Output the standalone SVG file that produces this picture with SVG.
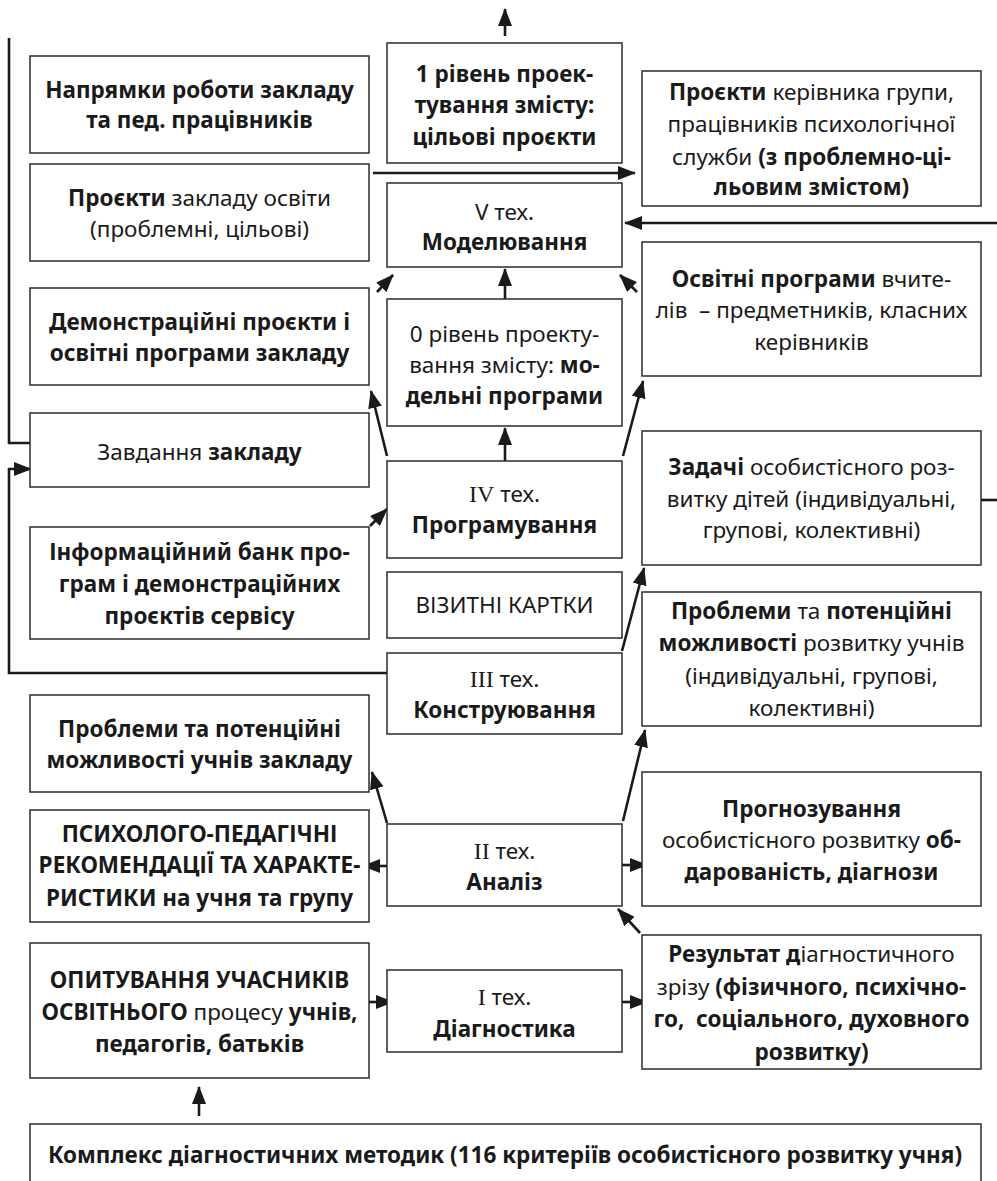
<svg xmlns="http://www.w3.org/2000/svg" width="997" height="1181" viewBox="0 0 997 1181">
<style>
.box{fill:#fff;stroke:#2b2b2b;stroke-width:1.5}
text{font-family:"Noto Sans","DejaVu Sans",sans-serif;font-size:22.5px;fill:#1a1a1a;text-anchor:middle}
.b{font-weight:bold}
.r{font-family:"Liberation Serif",serif;font-size:24px}
.c{fill:none;stroke:#1a1a1a;stroke-width:2.6}
.a{marker-end:url(#ah)}
</style>
<defs>
<marker id="ah" markerUnits="userSpaceOnUse" markerWidth="18" markerHeight="14" viewBox="0 0 18 14" refX="17" refY="7" orient="auto"><path d="M0,0 L18,7 L0,14 z" fill="#1a1a1a"/></marker>
</defs>
<g id="connectors">
<path class="c a" d="M505,36 L505,9"/>
<path class="c" d="M9,38 L9,443 L30,443"/>
<path class="c a" d="M387,673 L9,673 L9,469 L31,469"/>
<path class="c a" d="M373,173 L635,173"/>
<path class="c a" d="M997,223 L625,223"/>
<path class="c a" d="M377,292 L393,275"/>
<path class="c a" d="M637,292 L620,275"/>
<path class="c a" d="M505,299 L505,269"/>
<path class="c a" d="M505,461 L505,428"/>
<path class="c a" d="M387,456 L371,391"/>
<path class="c a" d="M623,456 L643,381"/>
<path class="c a" d="M370,526 L387,509"/>
<path class="c a" d="M622,651 L644,568"/>
<path class="c" d="M981,500 L997,500"/>
<path class="c a" d="M387,823 L372,772"/>
<path class="c a" d="M390,866 L363,866"/>
<path class="c a" d="M619,865 L647,865"/>
<path class="c a" d="M623,821 L645,730"/>
<path class="c a" d="M640,933 L618,909"/>
<path class="c a" d="M364,1002 L393,1002"/>
<path class="c a" d="M619,1002 L647,1002"/>
<path class="c a" d="M199,1116 L199,1087"/>
</g>
<g id="L1"><rect class="box" x="30" y="56" width="339" height="97"/>
<text x="199.5" y="98" class="b">Напрямки роботи закладу</text>
<text x="199.5" y="128" class="b">та пед. працівників</text></g>
<g id="L2"><rect class="box" x="30" y="164" width="339" height="97"/>
<text x="199.5" y="206"><tspan class="b">Проєкти</tspan> закладу освіти</text>
<text x="199.5" y="237">(проблемні, цільові)</text></g>
<g id="L3"><rect class="box" x="30" y="288" width="339" height="97"/>
<text x="199.5" y="330" class="b">Демонстраційні проєкти і</text>
<text x="199.5" y="361" class="b">освітні програми закладу</text></g>
<g id="L4"><rect class="box" x="30" y="413" width="339" height="74"/>
<text x="199.5" y="460">Завдання <tspan class="b">закладу</tspan></text></g>
<g id="L5"><rect class="box" x="30" y="527" width="339" height="112"/>
<text x="199.5" y="560" class="b">Інформаційний банк про-</text>
<text x="199.5" y="592" class="b">грам і демонстраційних</text>
<text x="199.5" y="624" class="b">проєктів сервісу</text></g>
<g id="L6"><rect class="box" x="30" y="695" width="339" height="97"/>
<text x="199.5" y="737" class="b">Проблеми та потенційні</text>
<text x="199.5" y="768" class="b">можливості учнів закладу</text></g>
<g id="L7"><rect class="box" x="30" y="810" width="339" height="112"/>
<text x="199.5" y="842" class="b">ПСИХОЛОГО-ПЕДАГІЧНІ</text>
<text x="199.5" y="873" class="b">РЕКОМЕНДАЦІЇ ТА ХАРАКТЕ-</text>
<text x="199.5" y="906" class="b">РИСТИКИ на учня та групу</text></g>
<g id="L8"><rect class="box" x="30" y="943" width="339" height="135"/>
<text x="199.5" y="988" class="b">ОПИТУВАННЯ УЧАСНИКІВ</text>
<text x="199.5" y="1020"><tspan class="b">ОСВІТНЬОГО</tspan> процесу <tspan class="b">учнів,</tspan></text>
<text x="199.5" y="1052" class="b">педагогів, батьків</text></g>
<g id="B"><rect class="box" x="30" y="1124" width="951" height="90"/>
<text x="505" y="1163" class="b">Комплекс діагностичних методик (116 критеріїв особистісного розвитку учня)</text></g>
<g id="M1"><rect class="box" x="387" y="43" width="235" height="120"/>
<text x="504.5" y="82" class="b">1 рівень проек-</text>
<text x="504.5" y="113" class="b">тування змісту:</text>
<text x="504.5" y="145" class="b">цільові проєкти</text></g>
<g id="M2"><rect class="box" x="387" y="183" width="235" height="84"/>
<text x="504.5" y="220">V тех.</text>
<text x="504.5" y="250" class="b">Моделювання</text></g>
<g id="M3"><rect class="box" x="387" y="299" width="235" height="127"/>
<text x="504.5" y="342">0 рівень проекту-</text>
<text x="504.5" y="373">вання змісту: <tspan class="b">мо-</tspan></text>
<text x="504.5" y="404" class="b">дельні програми</text></g>
<g id="M4"><rect class="box" x="387" y="461" width="235" height="97"/>
<text x="504.5" y="502"><tspan class="r">IV</tspan> тех.</text>
<text x="504.5" y="533" class="b">Програмування</text></g>
<g id="M5"><rect class="box" x="387" y="572" width="235" height="66"/>
<text x="504.5" y="613">ВІЗИТНІ КАРТКИ</text></g>
<g id="M6"><rect class="box" x="387" y="653" width="235" height="81"/>
<text x="504.5" y="687"><tspan class="r">III</tspan> тех.</text>
<text x="504.5" y="718" class="b">Конструювання</text></g>
<g id="M7"><rect class="box" x="387" y="824" width="235" height="82"/>
<text x="504.5" y="859"><tspan class="r">II</tspan> тех.</text>
<text x="504.5" y="890" class="b">Аналіз</text></g>
<g id="M8"><rect class="box" x="387" y="970" width="235" height="82"/>
<text x="504.5" y="1005"><tspan class="r">I</tspan> тех.</text>
<text x="504.5" y="1037" class="b">Діагностика</text></g>
<g id="R1"><rect class="box" x="642" y="71" width="339" height="135"/>
<text x="811.5" y="100"><tspan class="b">Проєкти</tspan> керівника групи,</text>
<text x="811.5" y="132">працівників психологічної</text>
<text x="811.5" y="165">служби <tspan class="b">(з проблемно-ці-</tspan></text>
<text x="811.5" y="195" class="b">льовим змістом)</text></g>
<g id="R2"><rect class="box" x="642" y="242" width="339" height="134"/>
<text x="811.5" y="287"><tspan class="b">Освітні програми</tspan> вчите-</text>
<text x="811.5" y="318">лів&#160; – предметників, класних</text>
<text x="811.5" y="350">керівників</text></g>
<g id="R3"><rect class="box" x="642" y="431" width="339" height="134"/>
<text x="811.5" y="475"><tspan class="b">Задачі</tspan> особистісного роз-</text>
<text x="811.5" y="507">витку дітей (індивідуальні,</text>
<text x="811.5" y="538">групові, колективні)</text></g>
<g id="R4"><rect class="box" x="642" y="592" width="339" height="134"/>
<text x="811.5" y="619"><tspan class="b">Проблеми</tspan> та <tspan class="b">потенційні</tspan></text>
<text x="811.5" y="651"><tspan class="b">можливості</tspan> розвитку учнів</text>
<text x="811.5" y="684">(індивідуальні, групові,</text>
<text x="811.5" y="716">колективні)</text></g>
<g id="R5"><rect class="box" x="642" y="772" width="339" height="134"/>
<text x="811.5" y="817" class="b">Прогнозування</text>
<text x="811.5" y="848">особистісного розвитку <tspan class="b">об-</tspan></text>
<text x="811.5" y="880" class="b">дарованість, діагнози</text></g>
<g id="R6"><rect class="box" x="642" y="935" width="339" height="134"/>
<text x="811.5" y="962"><tspan class="b">Результат д</tspan>іагностичного</text>
<text x="811.5" y="995">зрізу <tspan class="b">(фізичного, психічно-</tspan></text>
<text x="811.5" y="1027" class="b">го,&#160; соціального, духовного</text>
<text x="811.5" y="1060" class="b">розвитку)</text></g>
</svg>
